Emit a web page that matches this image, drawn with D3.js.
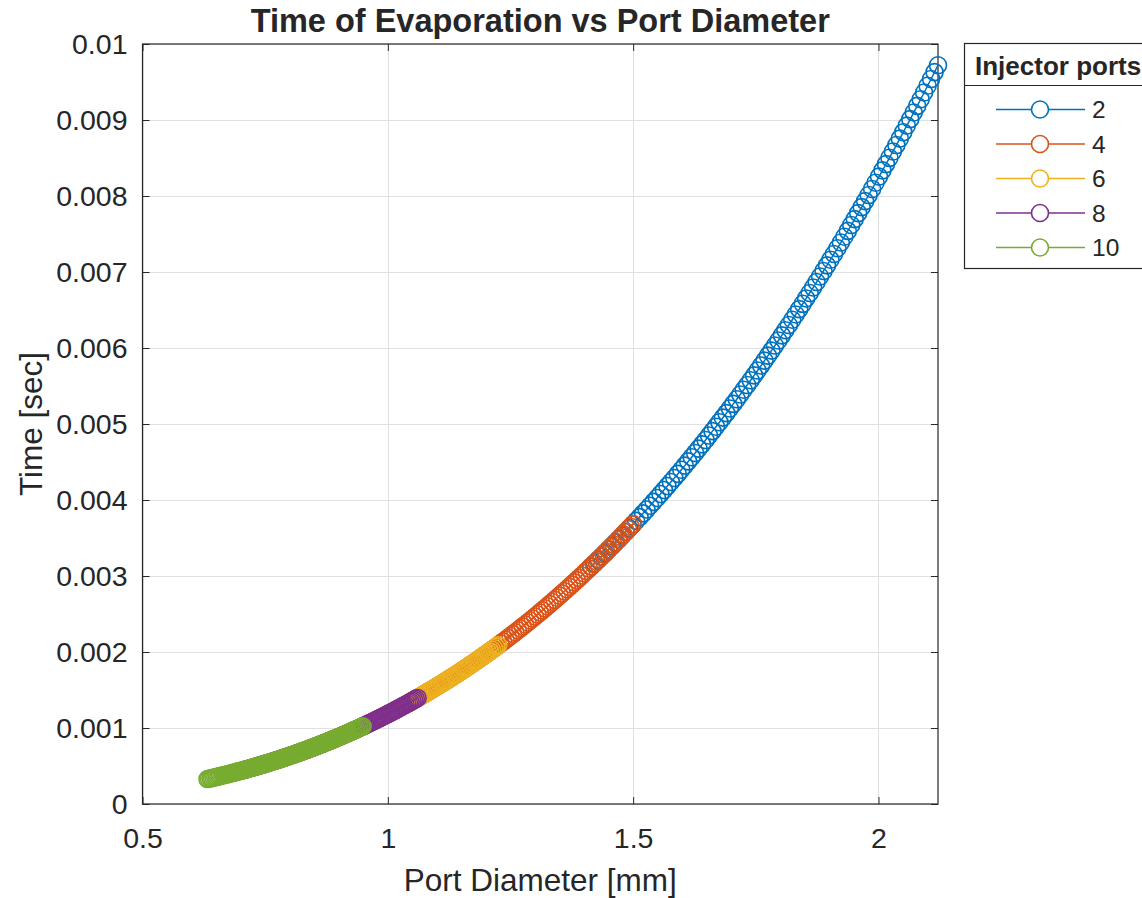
<!DOCTYPE html>
<html>
<head>
<meta charset="utf-8">
<script src="https://cdn.jsdelivr.net/npm/d3@7"></script>
<style>
  body { margin: 0; background: #ffffff; }
  svg { display: block; }
  text { font-family: "Liberation Sans", Arial, Helvetica, sans-serif; fill: #262626; }
</style>
</head>
<body>
<svg id="chart" width="1142" height="898"></svg>
<script>
// Number of injector ports for each curve
const portCounts = [2, 4, 6, 8, 10];

// Port diameter [mm] and evaporation time [sec], one pair of arrays per port count
const diameter2 = [1.4142,1.4213,1.4284,1.4354,1.4425,1.4496,1.4566,1.4637,1.4708,1.4779,1.4849,1.4920,1.4991,1.5061,1.5132,1.5203,1.5274,1.5344,1.5415,1.5486,1.5556,1.5627,1.5698,1.5768,1.5839,1.5910,1.5981,1.6051,1.6122,1.6193,1.6263,1.6334,1.6405,1.6476,1.6546,1.6617,1.6688,1.6758,1.6829,1.6900,1.6971,1.7041,1.7112,1.7183,1.7253,1.7324,1.7395,1.7466,1.7536,1.7607,1.7678,1.7748,1.7819,1.7890,1.7961,1.8031,1.8102,1.8173,1.8243,1.8314,1.8385,1.8456,1.8526,1.8597,1.8668,1.8738,1.8809,1.8880,1.8951,1.9021,1.9092,1.9163,1.9233,1.9304,1.9375,1.9445,1.9516,1.9587,1.9658,1.9728,1.9799,1.9870,1.9940,2.0011,2.0082,2.0153,2.0223,2.0294,2.0365,2.0435,2.0506,2.0577,2.0648,2.0718,2.0789,2.0860,2.0930,2.1001,2.1072,2.1143,2.1213];
const time2 = [0.0031233,0.0031672,0.0032115,0.0032562,0.0033014,0.0033469,0.0033928,0.0034391,0.0034858,0.0035329,0.0035805,0.0036284,0.0036768,0.0037255,0.0037747,0.0038243,0.0038743,0.0039248,0.0039756,0.0040269,0.0040786,0.0041307,0.0041833,0.0042363,0.0042897,0.0043435,0.0043978,0.0044525,0.0045076,0.0045632,0.0046192,0.0046756,0.0047325,0.0047899,0.0048477,0.0049059,0.0049646,0.0050237,0.0050833,0.0051433,0.0052038,0.0052647,0.0053261,0.0053880,0.0054503,0.0055131,0.0055763,0.0056400,0.0057042,0.0057688,0.0058339,0.0058995,0.0059655,0.0060321,0.0060991,0.0061665,0.0062345,0.0063029,0.0063718,0.0064412,0.0065111,0.0065814,0.0066523,0.0067236,0.0067954,0.0068678,0.0069406,0.0070139,0.0070877,0.0071620,0.0072368,0.0073121,0.0073879,0.0074642,0.0075410,0.0076183,0.0076961,0.0077745,0.0078533,0.0079327,0.0080125,0.0080929,0.0081738,0.0082552,0.0083372,0.0084196,0.0085026,0.0085861,0.0086701,0.0087547,0.0088398,0.0089254,0.0090115,0.0090982,0.0091854,0.0092732,0.0093615,0.0094503,0.0095397,0.0096296,0.0097200];

const diameter4 = [1.000,1.005,1.010,1.015,1.020,1.025,1.030,1.035,1.040,1.045,1.050,1.055,1.060,1.065,1.070,1.075,1.080,1.085,1.090,1.095,1.100,1.105,1.110,1.115,1.120,1.125,1.130,1.135,1.140,1.145,1.150,1.155,1.160,1.165,1.170,1.175,1.180,1.185,1.190,1.195,1.200,1.205,1.210,1.215,1.220,1.225,1.230,1.235,1.240,1.245,1.250,1.255,1.260,1.265,1.270,1.275,1.280,1.285,1.290,1.295,1.300,1.305,1.310,1.315,1.320,1.325,1.330,1.335,1.340,1.345,1.350,1.355,1.360,1.365,1.370,1.375,1.380,1.385,1.390,1.395,1.400,1.405,1.410,1.415,1.420,1.425,1.430,1.435,1.440,1.445,1.450,1.455,1.460,1.465,1.470,1.475,1.480,1.485,1.490,1.495,1.500];
const time4 = [0.0011835,0.0012002,0.0012169,0.0012339,0.0012510,0.0012682,0.0012856,0.0013032,0.0013209,0.0013387,0.0013567,0.0013749,0.0013932,0.0014117,0.0014304,0.0014491,0.0014681,0.0014872,0.0015065,0.0015259,0.0015455,0.0015653,0.0015852,0.0016052,0.0016255,0.0016459,0.0016664,0.0016872,0.0017081,0.0017291,0.0017503,0.0017717,0.0017933,0.0018150,0.0018369,0.0018590,0.0018812,0.0019036,0.0019262,0.0019490,0.0019719,0.0019950,0.0020182,0.0020417,0.0020653,0.0020891,0.0021130,0.0021372,0.0021615,0.0021860,0.0022106,0.0022355,0.0022605,0.0022857,0.0023111,0.0023367,0.0023624,0.0023884,0.0024145,0.0024408,0.0024672,0.0024939,0.0025207,0.0025478,0.0025750,0.0026024,0.0026300,0.0026578,0.0026857,0.0027139,0.0027422,0.0027708,0.0027995,0.0028284,0.0028575,0.0028868,0.0029163,0.0029460,0.0029758,0.0030059,0.0030362,0.0030666,0.0030973,0.0031281,0.0031592,0.0031904,0.0032219,0.0032535,0.0032854,0.0033174,0.0033497,0.0033821,0.0034147,0.0034476,0.0034806,0.0035139,0.0035473,0.0035810,0.0036149,0.0036489,0.0036832];

const diameter6 = [0.8165,0.8206,0.8247,0.8287,0.8328,0.8369,0.8410,0.8451,0.8492,0.8532,0.8573,0.8614,0.8655,0.8696,0.8737,0.8777,0.8818,0.8859,0.8900,0.8941,0.8981,0.9022,0.9063,0.9104,0.9145,0.9186,0.9226,0.9267,0.9308,0.9349,0.9390,0.9431,0.9471,0.9512,0.9553,0.9594,0.9635,0.9675,0.9716,0.9757,0.9798,0.9839,0.9880,0.9920,0.9961,1.0002,1.0043,1.0084,1.0125,1.0165,1.0206,1.0247,1.0288,1.0329,1.0370,1.0410,1.0451,1.0492,1.0533,1.0574,1.0614,1.0655,1.0696,1.0737,1.0778,1.0819,1.0859,1.0900,1.0941,1.0982,1.1023,1.1064,1.1104,1.1145,1.1186,1.1227,1.1268,1.1308,1.1349,1.1390,1.1431,1.1472,1.1513,1.1553,1.1594,1.1635,1.1676,1.1717,1.1758,1.1798,1.1839,1.1880,1.1921,1.1962,1.2003,1.2043,1.2084,1.2125,1.2166,1.2207,1.2247];
const time6 = [0.0006709,0.0006803,0.0006898,0.0006994,0.0007091,0.0007189,0.0007288,0.0007387,0.0007488,0.0007589,0.0007691,0.0007794,0.0007898,0.0008002,0.0008108,0.0008215,0.0008322,0.0008430,0.0008540,0.0008650,0.0008761,0.0008873,0.0008986,0.0009099,0.0009214,0.0009330,0.0009446,0.0009564,0.0009682,0.0009802,0.0009922,0.0010043,0.0010166,0.0010289,0.0010413,0.0010538,0.0010664,0.0010791,0.0010919,0.0011048,0.0011178,0.0011309,0.0011441,0.0011573,0.0011707,0.0011842,0.0011978,0.0012115,0.0012253,0.0012391,0.0012531,0.0012672,0.0012814,0.0012957,0.0013101,0.0013246,0.0013392,0.0013539,0.0013687,0.0013836,0.0013986,0.0014137,0.0014289,0.0014442,0.0014597,0.0014752,0.0014908,0.0015066,0.0015224,0.0015384,0.0015545,0.0015706,0.0015869,0.0016033,0.0016198,0.0016364,0.0016531,0.0016700,0.0016869,0.0017039,0.0017211,0.0017384,0.0017557,0.0017732,0.0017908,0.0018085,0.0018264,0.0018443,0.0018623,0.0018805,0.0018988,0.0019172,0.0019357,0.0019543,0.0019730,0.0019919,0.0020108,0.0020299,0.0020491,0.0020684,0.0020879];

const diameter8 = [0.7071,0.7106,0.7142,0.7177,0.7212,0.7248,0.7283,0.7319,0.7354,0.7389,0.7425,0.7460,0.7495,0.7531,0.7566,0.7601,0.7637,0.7672,0.7707,0.7743,0.7778,0.7813,0.7849,0.7884,0.7920,0.7955,0.7990,0.8026,0.8061,0.8096,0.8132,0.8167,0.8202,0.8238,0.8273,0.8308,0.8344,0.8379,0.8415,0.8450,0.8485,0.8521,0.8556,0.8591,0.8627,0.8662,0.8697,0.8733,0.8768,0.8804,0.8839,0.8874,0.8910,0.8945,0.8980,0.9016,0.9051,0.9086,0.9122,0.9157,0.9192,0.9228,0.9263,0.9298,0.9334,0.9369,0.9405,0.9440,0.9475,0.9511,0.9546,0.9581,0.9617,0.9652,0.9687,0.9723,0.9758,0.9793,0.9829,0.9864,0.9899,0.9935,0.9970,1.0006,1.0041,1.0076,1.0112,1.0147,1.0182,1.0218,1.0253,1.0288,1.0324,1.0359,1.0394,1.0430,1.0465,1.0501,1.0536,1.0571,1.0607];
const time8 = [0.0004485,0.0004548,0.0004611,0.0004676,0.0004740,0.0004806,0.0004872,0.0004938,0.0005005,0.0005073,0.0005141,0.0005210,0.0005279,0.0005349,0.0005420,0.0005491,0.0005563,0.0005636,0.0005709,0.0005782,0.0005856,0.0005931,0.0006007,0.0006083,0.0006159,0.0006237,0.0006315,0.0006393,0.0006472,0.0006552,0.0006633,0.0006714,0.0006795,0.0006878,0.0006961,0.0007044,0.0007129,0.0007213,0.0007299,0.0007385,0.0007472,0.0007560,0.0007648,0.0007737,0.0007826,0.0007916,0.0008007,0.0008098,0.0008191,0.0008283,0.0008377,0.0008471,0.0008566,0.0008661,0.0008758,0.0008854,0.0008952,0.0009050,0.0009149,0.0009249,0.0009349,0.0009450,0.0009552,0.0009654,0.0009757,0.0009861,0.0009966,0.0010071,0.0010177,0.0010284,0.0010391,0.0010499,0.0010608,0.0010718,0.0010828,0.0010939,0.0011051,0.0011163,0.0011276,0.0011390,0.0011505,0.0011620,0.0011737,0.0011854,0.0011971,0.0012090,0.0012209,0.0012329,0.0012449,0.0012571,0.0012693,0.0012816,0.0012939,0.0013064,0.0013189,0.0013315,0.0013442,0.0013569,0.0013698,0.0013827,0.0013957];

const diameter10 = [0.6325,0.6356,0.6388,0.6419,0.6451,0.6483,0.6514,0.6546,0.6578,0.6609,0.6641,0.6672,0.6704,0.6736,0.6767,0.6799,0.6830,0.6862,0.6894,0.6925,0.6957,0.6989,0.7020,0.7052,0.7083,0.7115,0.7147,0.7178,0.7210,0.7242,0.7273,0.7305,0.7336,0.7368,0.7400,0.7431,0.7463,0.7495,0.7526,0.7558,0.7589,0.7621,0.7653,0.7684,0.7716,0.7748,0.7779,0.7811,0.7842,0.7874,0.7906,0.7937,0.7969,0.8001,0.8032,0.8064,0.8095,0.8127,0.8159,0.8190,0.8222,0.8254,0.8285,0.8317,0.8348,0.8380,0.8412,0.8443,0.8475,0.8507,0.8538,0.8570,0.8601,0.8633,0.8665,0.8696,0.8728,0.8760,0.8791,0.8823,0.8854,0.8886,0.8918,0.8949,0.8981,0.9012,0.9044,0.9076,0.9107,0.9139,0.9171,0.9202,0.9234,0.9265,0.9297,0.9329,0.9360,0.9392,0.9424,0.9455,0.9487];
const time10 = [0.0003283,0.0003329,0.0003376,0.0003423,0.0003470,0.0003518,0.0003566,0.0003615,0.0003664,0.0003714,0.0003764,0.0003814,0.0003865,0.0003916,0.0003968,0.0004020,0.0004072,0.0004125,0.0004179,0.0004233,0.0004287,0.0004342,0.0004397,0.0004453,0.0004509,0.0004566,0.0004623,0.0004680,0.0004738,0.0004797,0.0004855,0.0004915,0.0004975,0.0005035,0.0005096,0.0005157,0.0005218,0.0005281,0.0005343,0.0005406,0.0005470,0.0005534,0.0005599,0.0005664,0.0005729,0.0005795,0.0005861,0.0005928,0.0005996,0.0006064,0.0006132,0.0006201,0.0006271,0.0006341,0.0006411,0.0006482,0.0006553,0.0006625,0.0006698,0.0006771,0.0006844,0.0006918,0.0006992,0.0007067,0.0007143,0.0007219,0.0007296,0.0007373,0.0007450,0.0007528,0.0007607,0.0007686,0.0007766,0.0007846,0.0007927,0.0008008,0.0008090,0.0008172,0.0008255,0.0008338,0.0008422,0.0008507,0.0008592,0.0008677,0.0008764,0.0008850,0.0008937,0.0009025,0.0009114,0.0009202,0.0009292,0.0009382,0.0009472,0.0009563,0.0009655,0.0009747,0.0009840,0.0009934,0.0010027,0.0010122,0.0010217];

// Axis ticks and their labels
const xTicks = [0.5, 1, 1.5, 2];
const xTickLabels = ["0.5", "1", "1.5", "2"];
const yTicks = [0, 0.001, 0.002, 0.003, 0.004, 0.005, 0.006, 0.007, 0.008, 0.009, 0.01];
const yTickLabels = ["0", "0.001", "0.002", "0.003", "0.004", "0.005", "0.006", "0.007", "0.008", "0.009", "0.01"];

const seriesColors = ["#0072BD", "#D95319", "#EDB120", "#7E2F8E", "#77AC30"];

const diameters = [diameter2, diameter4, diameter6, diameter8, diameter10];
const times = [time2, time4, time6, time8, time10];
const series = portCounts.map((n, i) => ({
  ports: n,
  color: seriesColors[i],
  points: d3.zip(diameters[i], times[i])
}));

// Plot box
const plot = { left: 142.5, right: 938, top: 44, bottom: 804 };
const axisColor = "#262626";
const gridColor = "#e0e0e0";
const tickFont = 28.5;

const svg = d3.select("#chart");

const x = d3.scaleLinear()
  .domain([0.5, d3.max(diameters.flat())])
  .range([plot.left, plot.right]);
const y = d3.scaleLinear()
  .domain([0, 0.01])
  .range([plot.bottom, plot.top]);

// Grid
const grid = svg.append("g").attr("stroke", gridColor).attr("stroke-width", 1);
grid.selectAll("line.gx").data(xTicks).join("line").attr("class", "gx")
  .attr("x1", d => Math.round(x(d)) + 0.5).attr("x2", d => Math.round(x(d)) + 0.5)
  .attr("y1", plot.top).attr("y2", plot.bottom);
grid.selectAll("line.gy").data(yTicks).join("line").attr("class", "gy")
  .attr("y1", d => Math.round(y(d)) + 0.5).attr("y2", d => Math.round(y(d)) + 0.5)
  .attr("x1", plot.left).attr("x2", plot.right);

// Axes: ticks point inward on all four sides
function styleAxis(g) {
  g.select(".domain").remove();
  g.selectAll(".tick line").attr("stroke", axisColor).attr("stroke-width", 1);
  g.selectAll(".tick text")
    .attr("fill", axisColor)
    .style("font-size", tickFont + "px");
}
svg.append("g")
  .attr("transform", `translate(0,${plot.bottom})`)
  .call(d3.axisBottom(x).tickValues(xTicks).tickFormat((d, i) => xTickLabels[i]).tickSize(-7).tickPadding(24))
  .call(styleAxis);
svg.append("g")
  .attr("transform", `translate(0,${plot.top})`)
  .call(d3.axisTop(x).tickValues(xTicks).tickFormat("").tickSize(-7))
  .call(styleAxis);
svg.append("g")
  .attr("transform", `translate(${plot.left},0)`)
  .call(d3.axisLeft(y).tickValues(yTicks).tickFormat((d, i) => yTickLabels[i]).tickSize(-7).tickPadding(15))
  .call(styleAxis);
svg.append("g")
  .attr("transform", `translate(${plot.right},0)`)
  .call(d3.axisRight(y).tickValues(yTicks).tickFormat("").tickSize(-7))
  .call(styleAxis);

svg.append("rect")
  .attr("x", plot.left).attr("y", plot.top)
  .attr("width", plot.right - plot.left).attr("height", plot.bottom - plot.top)
  .attr("fill", "none").attr("stroke", axisColor).attr("stroke-width", 1.2);

// Curves: line with open circle markers
const line = d3.line().x(d => x(d[0])).y(d => y(d[1]));
const markerR = 8.5;
const marks = svg.append("g");
series.forEach(s => {
  const g = marks.append("g");
  g.append("path").datum(s.points)
    .attr("d", line).attr("fill", "none")
    .attr("stroke", s.color).attr("stroke-width", 1.5);
  g.selectAll("circle").data(s.points).join("circle")
    .attr("cx", d => x(d[0])).attr("cy", d => y(d[1]))
    .attr("r", markerR)
    .attr("fill", "none").attr("stroke", s.color).attr("stroke-width", 1.6);
});

// Title and axis labels
svg.append("text")
  .attr("x", (plot.left + plot.right) / 2).attr("y", 32)
  .attr("text-anchor", "middle")
  .style("font-size", "32.5px").style("font-weight", "bold").attr("fill", "#000")
  .text("Time of Evaporation vs Port Diameter");
svg.append("text")
  .attr("x", (plot.left + plot.right) / 2).attr("y", 891)
  .attr("text-anchor", "middle")
  .style("font-size", "31.5px")
  .text("Port Diameter [mm]");
svg.append("text")
  .attr("transform", `translate(42,${(plot.top + plot.bottom) / 2}) rotate(-90)`)
  .attr("text-anchor", "middle")
  .style("font-size", "31.5px")
  .text("Time [sec]");

// Legend
const legend = { left: 964, top: 43, width: 200, height: 225, header: 42, first: 109.5, step: 34.5 };
const lg = svg.append("g");
lg.append("rect")
  .attr("x", legend.left + 0.5).attr("y", legend.top + 0.5)
  .attr("width", legend.width).attr("height", legend.height)
  .attr("fill", "#fff").attr("stroke", axisColor).attr("stroke-width", 1.2);
lg.append("line")
  .attr("x1", legend.left).attr("x2", legend.left + legend.width)
  .attr("y1", legend.top + legend.header + 0.5).attr("y2", legend.top + legend.header + 0.5)
  .attr("stroke", axisColor).attr("stroke-width", 1);
lg.append("text")
  .attr("x", legend.left + 11).attr("y", legend.top + 32)
  .style("font-size", "26px").style("font-weight", "bold").attr("fill", "#000")
  .text("Injector ports");
const entries = lg.selectAll("g.entry").data(series).join("g").attr("class", "entry")
  .attr("transform", (d, i) => `translate(0,${legend.first + i * legend.step})`);
entries.append("line")
  .attr("x1", 996).attr("x2", 1085).attr("y1", 0).attr("y2", 0)
  .attr("stroke", d => d.color).attr("stroke-width", 1.5);
entries.append("circle")
  .attr("cx", 1040).attr("cy", 0).attr("r", markerR)
  .attr("fill", "#fff").attr("stroke", d => d.color).attr("stroke-width", 1.6);
entries.append("text")
  .attr("x", 1092).attr("y", 0).attr("dy", "0.36em")
  .style("font-size", "24.5px").attr("fill", "#000")
  .text(d => String(d.ports));
</script>
</body>
</html>
